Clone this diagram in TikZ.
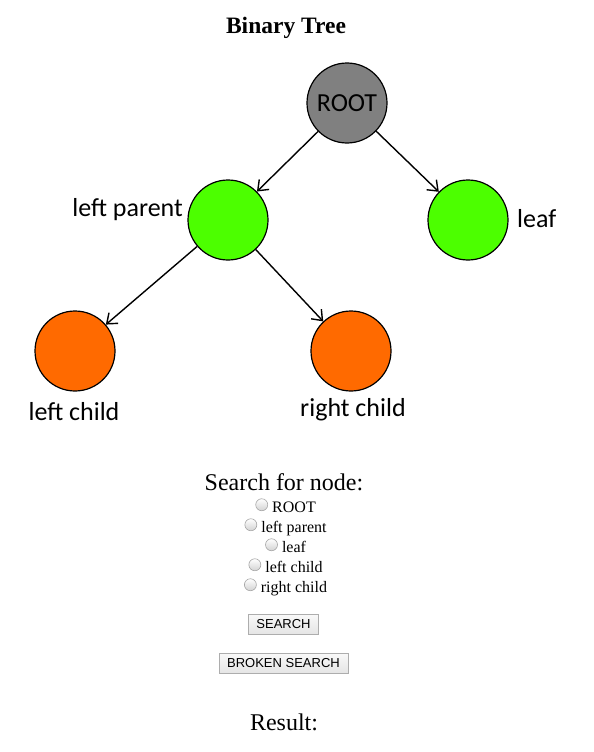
\documentclass[tikz,border=0pt]{standalone}
\usepackage{fontspec}
\setmainfont{Liberation Serif}
\newfontfamily\calibri{Carlito}
\newfontfamily\arial{Liberation Sans}
\usetikzlibrary{arrows.meta, positioning}
\definecolor{gray1}{RGB}{128,128,128}
\definecolor{green1}{RGB}{76,255,0}
\definecolor{orange1}{RGB}{255,106,0}
\definecolor{btnborder}{RGB}{173,173,173}

\begin{document}
\begin{tikzpicture}[x=1pt, y=-1pt,
    treenode/.style={draw=black, circle, line width=1.2pt, minimum size=80pt, inner sep=0pt},
    rootnode/.style={treenode, fill=gray1, font=\calibri\fontsize{26}{30}\selectfont},
    parentnode/.style={treenode, fill=green1},
    childnode/.style={treenode, fill=orange1},
    treelabel/.style={font=\calibri\fontsize{26}{30}\selectfont, inner sep=0pt},
    treearrow/.style={-{Straight Barb[length=9pt,width=14pt]}, line width=1.4pt},
    radio/.style={circle, draw=gray!70, top color=white, bottom color=gray!35, minimum size=12pt, inner sep=0pt, line width=0.6pt},
    option/.style={font=\fontsize{16}{18}\selectfont, inner sep=0pt, text height=11pt, text depth=3.5pt, anchor=base},
    button/.style={draw=btnborder, top color=gray!5, bottom color=gray!20, font=\arial\fontsize{13}{15}\selectfont, inner xsep=8pt, inner ysep=0pt, minimum height=20pt},
    heading/.style={font=\fontsize{24}{28}\selectfont, inner sep=0pt}
]
        \useasboundingbox (0,0) rectangle (594,752);

        \node[heading, font=\bfseries\fontsize{23.5}{28}\selectfont, anchor=base, name=title] at(286,34) {Binary Tree};

        % tree
        \node[rootnode, name=root] at(347,103) {ROOT};
        \node[parentnode, name=lparent] at(228,220) {};
        \node[parentnode, name=leaf] at(468,220) {};
        \node[childnode, name=lchild] at(75,351) {};
        \node[childnode, name=rchild] at(351,351) {};

        \node[treelabel, anchor=east, name=lparentlbl] at(183,210) {left parent};
        \node[treelabel, anchor=west, name=leaflbl] at(517,219) {leaf};
        \node[treelabel, name=lchildlbl] at(74,412) {left child};
        \node[treelabel, name=rchildlbl] at(353,410) {right child};

        \draw[treearrow] (root) -- (lparent);
        \draw[treearrow] (root) -- (leaf);
        \draw[treearrow] (lparent) -- (lchild);
        \draw[treearrow] (lparent) -- (rchild);

        % search form
        \node[heading, name=search] at(284,482) {Search for node:};
        \foreach \id/\txt/\y in {root/ROOT/512, lparent/left parent/532, leaf/leaf/552, lchild/left child/572, rchild/right child/592}
        {
            \node[option, name=opt\id] at(294,\y) {\txt};
            \node[radio, left=4pt of opt\id, yshift=3.5pt, name=radio\id] {};
        }

        \node[button, name=searchbtn] at(283.5,624) {SEARCH};
        \node[button, name=brokenbtn] at(283.5,663) {BROKEN SEARCH};

        \node[heading, name=result] at(284,722) {Result:};
    \end{tikzpicture}
\end{document}
